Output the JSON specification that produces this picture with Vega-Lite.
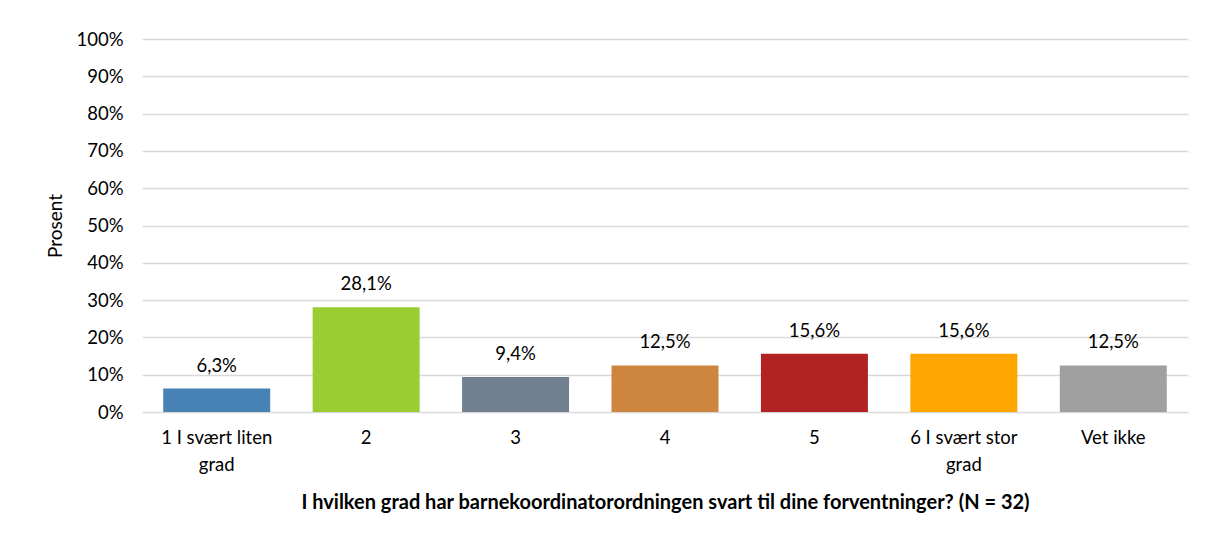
{
  "$schema": "https://vega.github.io/schema/vega-lite/v6.json",
  "autosize": {"type": "none"},
  "padding": {"left": 142, "top": 39, "right": 18, "bottom": 125},
  "width": 1046,
  "height": 373,
  "background": "white",
  "config": {
    "locale": {"number": {"decimal": ",", "thousands": " ", "grouping": [3], "currency": ["", " kr"]}},
    "view": {"stroke": null},
    "font": "Lato",
    "axis": {"labelFont": "Lato", "titleFont": "Lato", "labelColor": "#000000", "titleColor": "#000000"}
  },
  "data": {
    "values": [
      {"kategori": "1 I svært liten grad", "andel": 0.063, "farge": "#4682B4"},
      {"kategori": "2", "andel": 0.281, "farge": "#9ACD32"},
      {"kategori": "3", "andel": 0.094, "farge": "#708090"},
      {"kategori": "4", "andel": 0.125, "farge": "#CD853F"},
      {"kategori": "5", "andel": 0.156, "farge": "#B22222"},
      {"kategori": "6 I svært stor grad", "andel": 0.156, "farge": "#FFA500"},
      {"kategori": "Vet ikke", "andel": 0.125, "farge": "#A0A0A0"}
    ]
  },
  "encoding": {
    "x": {
      "field": "kategori",
      "type": "nominal",
      "sort": null,
      "scale": {"paddingInner": 0.284, "paddingOuter": 0.142},
      "axis": {
        "title": "I hvilken grad har barnekoordinatorordningen svart til dine forventninger? (N = 32)",
        "titleFontSize": 20,
        "titleFontWeight": "bold",
        "titlePadding": 19,
        "labelAngle": 0,
        "labelFontSize": 18.5,
        "labelPadding": 16,
        "labelLineHeight": 27,
        "labelOverlap": false,
        "labelExpr": "split(replace(datum.label, ' grad', '|grad'), '|')",
        "ticks": false,
        "domain": false,
        "grid": false
      }
    },
    "y": {
      "field": "andel",
      "type": "quantitative",
      "scale": {"domain": [0, 1]},
      "axis": {
        "title": "Prosent",
        "titleFontSize": 19,
        "titleFontWeight": "normal",
        "titlePadding": 10,
        "format": ".0%",
        "values": [0, 0.1, 0.2, 0.3, 0.4, 0.5, 0.6, 0.7, 0.8, 0.9, 1],
        "labelOverlap": false,
        "labelFontSize": 18.5,
        "labelPadding": 19,
        "ticks": false,
        "domain": false,
        "grid": true,
        "gridColor": "#D9D9D9",
        "gridWidth": 1.5
      }
    }
  },
  "layer": [
    {
      "mark": {"type": "bar"},
      "encoding": {
        "color": {"field": "farge", "type": "nominal", "scale": null, "legend": null}
      }
    },
    {
      "mark": {"type": "text", "baseline": "bottom", "dy": -13, "fontSize": 18.5, "color": "#000000"},
      "encoding": {
        "text": {"field": "andel", "type": "quantitative", "format": ".1%"}
      }
    }
  ]
}
